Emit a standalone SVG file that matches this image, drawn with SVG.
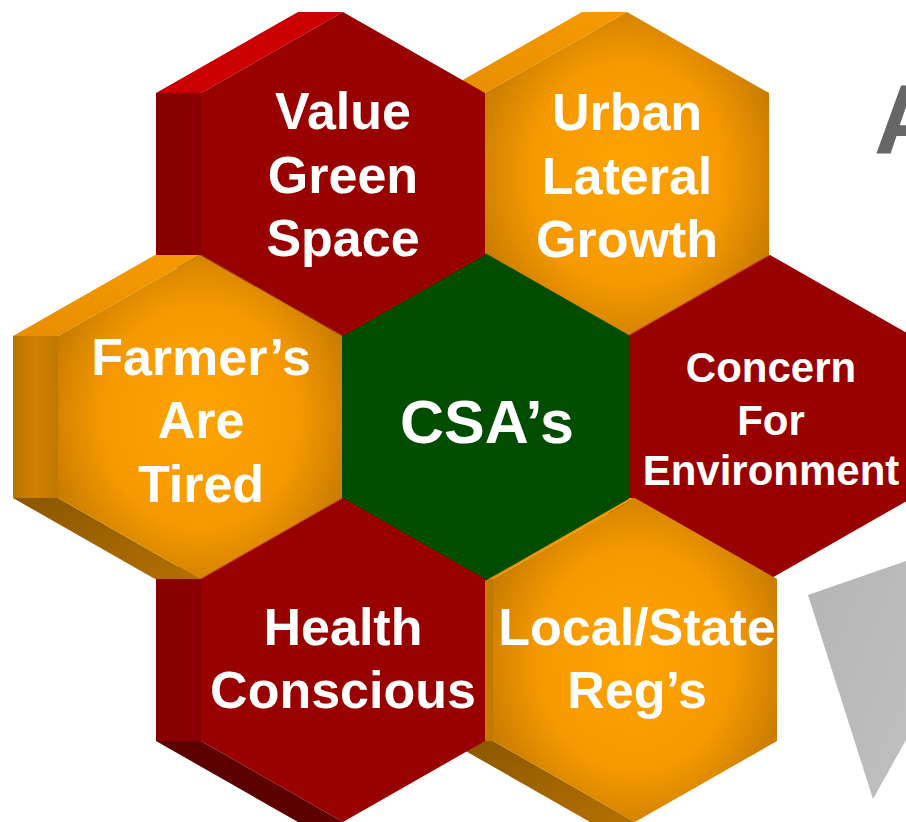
<svg xmlns="http://www.w3.org/2000/svg" width="906" height="822" viewBox="0 0 906 822">
  <style>
    .rm{fill:#990000}
    .rt{fill:#cc0000}
    .rl{fill:#890000}
    .rb{fill:#5c0000}
    .om{fill:url(#gOm)}
    .ot{fill:url(#gOt)}
    .ol{fill:url(#gOl)}
    .ob{fill:url(#gOb)}
    .gm{fill:#004d00;stroke:#004d00;stroke-width:3;stroke-linejoin:round}
    .lbl{font-family:"Liberation Sans",Arial,Helvetica,sans-serif;font-weight:bold;fill:#ffffff;text-anchor:middle}
    .f52{font-size:52px}
    .f42{font-size:42px}
    .f61{font-size:61px}
  </style>
  <defs>
    <radialGradient id="gOm" cx="50%" cy="50%" r="62%">
      <stop offset="0" stop-color="#ffa300"/>
      <stop offset="0.55" stop-color="#f69900"/>
      <stop offset="1" stop-color="#bb7300"/>
    </radialGradient>
    <linearGradient id="gOt" x1="0" y1="1" x2="1" y2="0">
      <stop offset="0" stop-color="#e88e00"/>
      <stop offset="1" stop-color="#f59a00"/>
    </linearGradient>
    <linearGradient id="gOl" x1="0" y1="0" x2="1" y2="0">
      <stop offset="0" stop-color="#b87300"/>
      <stop offset="0.5" stop-color="#d08200"/>
      <stop offset="1" stop-color="#c07800"/>
    </linearGradient>
    <linearGradient id="gOb" x1="0" y1="0" x2="1" y2="1">
      <stop offset="0" stop-color="#8a5600"/>
      <stop offset="1" stop-color="#b47000"/>
    </linearGradient>
    <linearGradient id="gTri" x1="0" y1="0" x2="1" y2="1">
      <stop offset="0" stop-color="#b5b5b5"/>
      <stop offset="1" stop-color="#bfbfbf"/>
    </linearGradient>
    <path id="hm" d="M0,-162 L142,-81 L142,81 L0,162 L-142,81 L-142,-81 Z"/>
    <path id="bt" d="M-45,-162 L0,-162 L-142,-81 L-187,-81 Z"/>
    <path id="bl" d="M-187,-81 L-142,-81 L-142,81 L-187,81 Z"/>
    <path id="bb" d="M-187,81 L-142,81 L0,162 L-45,162 Z"/>
  </defs>

  <rect x="0" y="0" width="906" height="822" fill="#ffffff"/>

  <!-- grey title fragment and triangle -->
  <text x="874" y="153" font-family="Liberation Sans,Arial,sans-serif" font-weight="bold" font-size="98" fill="#666666">A</text>
  <polygon points="808,595 906,561 906,740 873,799" fill="url(#gTri)"/>

  <g id="concern">
    <use href="#bt" class="rt" transform="translate(770,417)"/>
    <use href="#bl" class="rl" transform="translate(770,417)"/>
    <use href="#bb" class="rb" transform="translate(770,417)"/>
    <use href="#hm" class="rm" transform="translate(770,417)"/>
    <text class="lbl f42" x="771" y="382">Concern</text>
    <text class="lbl f42" x="771" y="435">For</text>
    <text class="lbl f42" x="771" y="485">Environment</text>
  </g>

  <g id="urban">
    <use href="#bt" class="ot" transform="translate(627,174)"/>
    <use href="#bl" class="ol" transform="translate(627,174)"/>
    <use href="#bb" class="ob" transform="translate(627,174)"/>
    <use href="#hm" class="om" transform="translate(627,174)"/>
    <text class="lbl f52" x="627" y="130">Urban</text>
    <text class="lbl f52" x="627" y="194">Lateral</text>
    <text class="lbl f52" x="627" y="257">Growth</text>
  </g>

  <g id="local">
    <use href="#bt" class="ot" transform="translate(635,660)"/>
    <use href="#bl" class="ol" transform="translate(635,660)"/>
    <use href="#bb" class="ob" transform="translate(635,660)"/>
    <use href="#hm" class="om" transform="translate(635,660)"/>
    <text class="lbl f52" x="637" y="645">Local/State</text>
    <text class="lbl f52" x="637" y="708">Reg’s</text>
  </g>

  <g id="csa">
    <use href="#hm" class="gm" transform="translate(485.5,417)"/>
    <text class="lbl f61" x="487" y="443">CSA’s</text>
  </g>

  <g id="value">
    <use href="#bt" class="rt" transform="translate(343,174)"/>
    <use href="#bl" class="rl" transform="translate(343,174)"/>
    <use href="#bb" class="rb" transform="translate(343,174)"/>
    <use href="#hm" class="rm" transform="translate(343,174)"/>
    <text class="lbl f52" x="343" y="129">Value</text>
    <text class="lbl f52" x="343" y="193">Green</text>
    <text class="lbl f52" x="343" y="256">Space</text>
  </g>

  <g id="health">
    <use href="#bt" class="rt" transform="translate(343,660)"/>
    <use href="#bl" class="rl" transform="translate(343,660)"/>
    <use href="#bb" class="rb" transform="translate(343,660)"/>
    <use href="#hm" class="rm" transform="translate(343,660)"/>
    <text class="lbl f52" x="343" y="645">Health</text>
    <text class="lbl f52" x="343" y="708">Conscious</text>
  </g>

  <g id="farmers">
    <use href="#bt" class="ot" transform="translate(200,417)"/>
    <use href="#bl" class="ol" transform="translate(200,417)"/>
    <use href="#bb" class="ob" transform="translate(200,417)"/>
    <use href="#hm" class="om" transform="translate(200,417)"/>
    <text class="lbl f52" x="201" y="375">Farmer’s</text>
    <text class="lbl f52" x="201" y="438">Are</text>
    <text class="lbl f52" x="201" y="502">Tired</text>
  </g>

  <g id="connectors"/>
</svg>
